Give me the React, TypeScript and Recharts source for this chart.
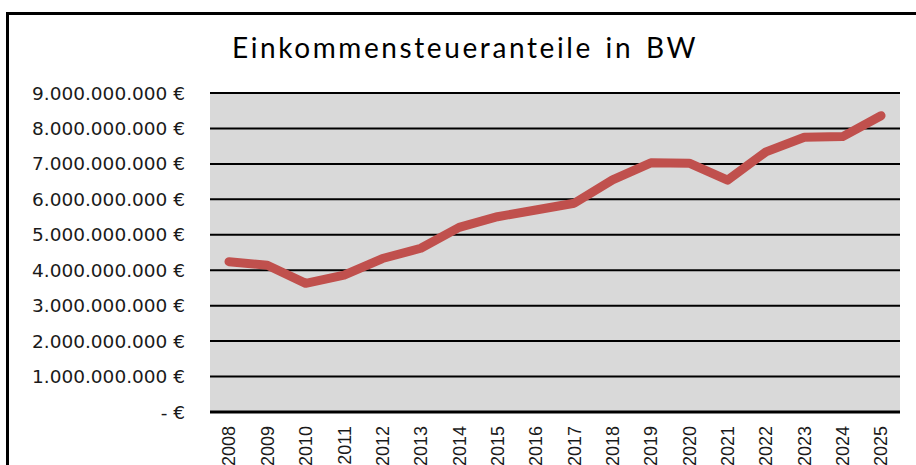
import { CartesianGrid, Line, LineChart, XAxis, YAxis } from "recharts";

const years = ["2008", "2009", "2010", "2011", "2012", "2013", "2014", "2015", "2016", "2017", "2018", "2019", "2020", "2021", "2022", "2023", "2024", "2025"];
const shares = [4.24e9, 4.14e9, 3.63e9, 3.86e9, 4.33e9, 4.62e9, 5.21e9, 5.51e9, 5.7e9, 5.89e9, 6.55e9, 7.03e9, 7.02e9, 6.54e9, 7.34e9, 7.75e9, 7.77e9, 8.36e9];
const yTicks = [0, 1e9, 2e9, 3e9, 4e9, 5e9, 6e9, 7e9, 8e9, 9e9];

const data = years.map((year, i) => ({ year, value: shares[i] }));

function euro(v: number) {
  if (v === 0) return "- €";
  return String(Math.round(v)).replace(/\B(?=(\d{3})+(?!\d))/g, ".") + " €";
}

function YearTick({ x, y, payload }: any) {
  return (
    <text
      x={x}
      y={y + 12}
      transform={`rotate(-90, ${x}, ${y + 12})`}
      textAnchor="end"
      dy="0.36em"
      fontFamily="'Liberation Sans', Arial, sans-serif"
      fontSize={18}
      fill="#1a1a1a"
    >
      {payload.value}
    </text>
  );
}

export default function App() {
  return (
    <div style={{ position: "fixed", left: 0, top: 0, width: 916, height: 465, overflow: "hidden", background: "#fff" }}>
      <div style={{ position: "absolute", left: 6, top: 12, width: 1000, height: 1000, border: "3px solid #000" }} />
      <div
        style={{
          position: "absolute",
          left: 0,
          width: 930,
          top: 30,
          textAlign: "center",
          fontFamily: "Lato, sans-serif",
          fontSize: 28,
          letterSpacing: 2.6,
          wordSpacing: 3,
          color: "#000",
        }}
      >
        Einkommensteueranteile in BW
      </div>
      <div style={{ position: "absolute", left: 0, top: 0 }}>
        <LineChart width={916} height={465} data={data} margin={{ top: 93, right: 16, left: 0, bottom: 0 }}>
          <CartesianGrid vertical={false} fill="#d9d9d9" stroke="#000" strokeWidth={2} strokeOpacity={1} />
          <XAxis
            dataKey="year"
            height={53}
            padding={{ left: 19, right: 19 }}
            tickLine={false}
            tickSize={0}
            axisLine={{ stroke: "#000", strokeWidth: 3 }}
            tick={<YearTick />}
            interval={0}
          />
          <YAxis
            width={210}
            domain={[0, 9e9]}
            ticks={yTicks}
            tickFormatter={euro}
            axisLine={false}
            tickLine={false}
            tickSize={0}
            tickMargin={25}
            tick={{ fontFamily: "'DejaVu Sans', Verdana, sans-serif", fontSize: 18.5, fill: "#1a1a1a" }}
          />
          <Line
            dataKey="value"
            stroke="#c0504d"
            strokeWidth={9}
            strokeLinecap="round"
            strokeLinejoin="round"
            dot={false}
            activeDot={false}
            isAnimationActive={false}
          />
        </LineChart>
      </div>
    </div>
  );
}
